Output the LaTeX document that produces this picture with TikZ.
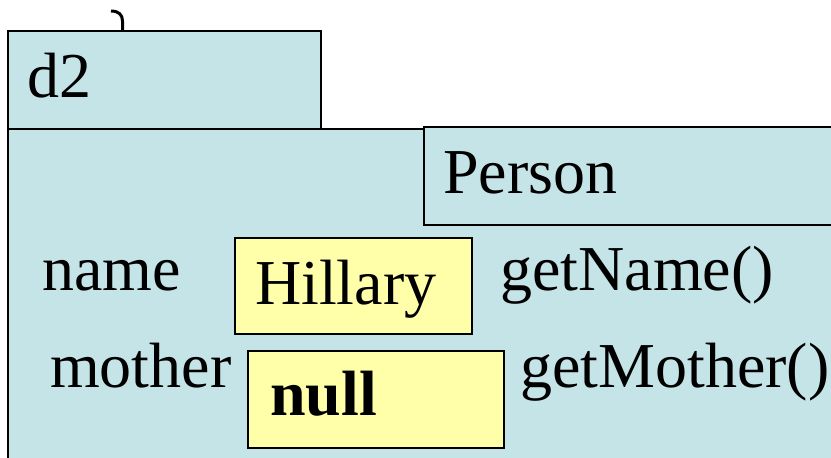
\documentclass[tikz,border=0pt]{standalone}
\usepackage{fontspec}
\setmainfont{Liberation Serif}
\definecolor{objblue}{HTML}{C5E4E8}
\definecolor{valyellow}{HTML}{FFFFAA}
\tikzset{
  x=1pt, y=-1pt,
  frame/.style={draw=black, line width=1.6pt, fill=objblue, anchor=north west, inner sep=0pt},
  valbox/.style={draw=black, line width=1.6pt, fill=valyellow, anchor=north west, inner sep=0pt},
  lbl/.style={anchor=base west, inner sep=0pt, font=\fontsize{64}{70}\selectfont},
}
\begin{document}
\begin{tikzpicture}
\useasboundingbox (0,0) rectangle (831,458);
\clip (0,0) rectangle (831,458);
% hook at top
\coordinate (hookstart) at (111,11);
\coordinate (hookend) at (122.5,30);
\draw[line width=3pt] (hookstart) .. controls (119,11) and (122.5,15) .. (122.5,21) -- (hookend);
% main object frame
\node[frame, minimum width=840pt, minimum height=340pt] (main) at (7,128) {};
% d2 tab
\node[frame, minimum width=313pt, minimum height=98pt] (d2box) at (7,30) {};
\node[lbl] (d2) at (27,97) {d2};
% Person class box
\node[frame, minimum width=420pt, minimum height=98pt] (personbox) at (423,126) {};
\node[lbl] (person) at (443,193) {Person};
% fields
\node[lbl] (name) at (42,290) {name};
\node[valbox, minimum width=237pt, minimum height=96pt] (hbox) at (234,237) {};
\node[lbl] (hillary) at (255,304) {Hillary};
\node[lbl] (getname) at (500,290) {getName()};
\node[lbl] (mother) at (50,387) {mother};
\node[valbox, minimum width=256pt, minimum height=97pt] (nbox) at (247,350) {};
\node[lbl, font=\fontsize{64}{70}\selectfont\bfseries] (null) at (270,415) {null};
\node[lbl] (getmother) at (520,387) {getMother()};
\end{tikzpicture}
\end{document}
